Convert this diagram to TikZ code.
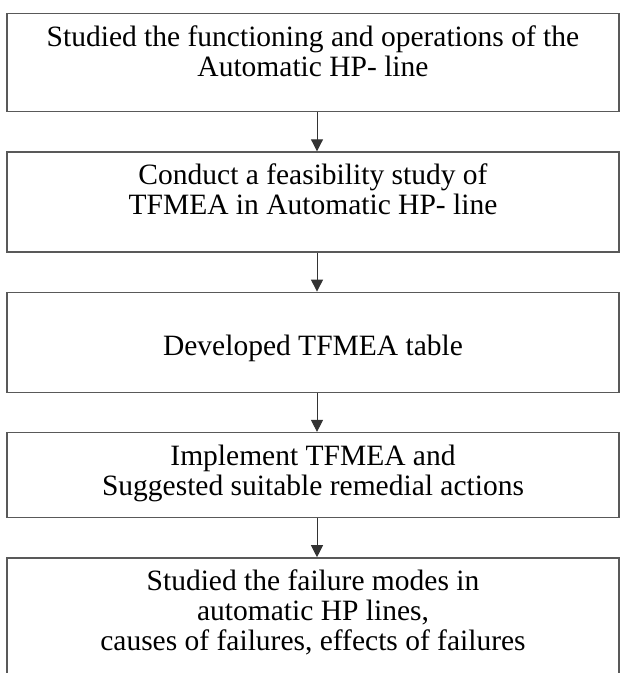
\documentclass[tikz,border=0pt]{standalone}
\usepackage{fontspec}
\setmainfont{Liberation Serif}
\usetikzlibrary{positioning,arrows.meta}
% box of fixed height, text set from the top
\newcommand{\steptext}[3]{\parbox[t][#1][t]{600pt}{\centering\vspace*{#2}\strut#3}}
\tikzset{
  stepbox/.style={draw=black!65,line width=1.3pt,minimum width=612pt,
    inner sep=0pt,font=\fontsize{29.5}{30}\selectfont},
  flowarrow/.style={-{Triangle[length=12pt,width=12pt]},line width=1pt,black!80}
}
\begin{document}
\begin{tikzpicture}[x=1pt,y=-1pt,node distance=39pt]
  \useasboundingbox (0,0) rectangle (620,673);
  \node[stepbox,anchor=north] (study) at (313,13)
    {\steptext{98pt}{12pt}{Studied the functioning and operations of the\\Automatic HP- line}};
  \node[stepbox,below=of study] (feasible)
    {\steptext{100pt}{12pt}{Conduct a feasibility study of\\TFMEA in Automatic HP- line}};
  \node[stepbox,below=of feasible] (table)
    {\steptext{100pt}{42pt}{Developed TFMEA table}};
  \node[stepbox,below=of table] (implement)
    {\steptext{85pt}{12pt}{Implement TFMEA and\\Suggested suitable remedial actions}};
  \node[stepbox,below=of implement] (failure)
    {\steptext{120pt}{12pt}{Studied the failure modes in\\automatic HP lines,\\causes of failures, effects of failures}};
  % arrows between the steps
  \foreach \from/\to in {study/feasible,feasible/table,table/implement,implement/failure}{
    \draw[flowarrow] ([xshift=4pt]\from.south) -- ([xshift=4pt]\to.north);
  }
\end{tikzpicture}
\end{document}
